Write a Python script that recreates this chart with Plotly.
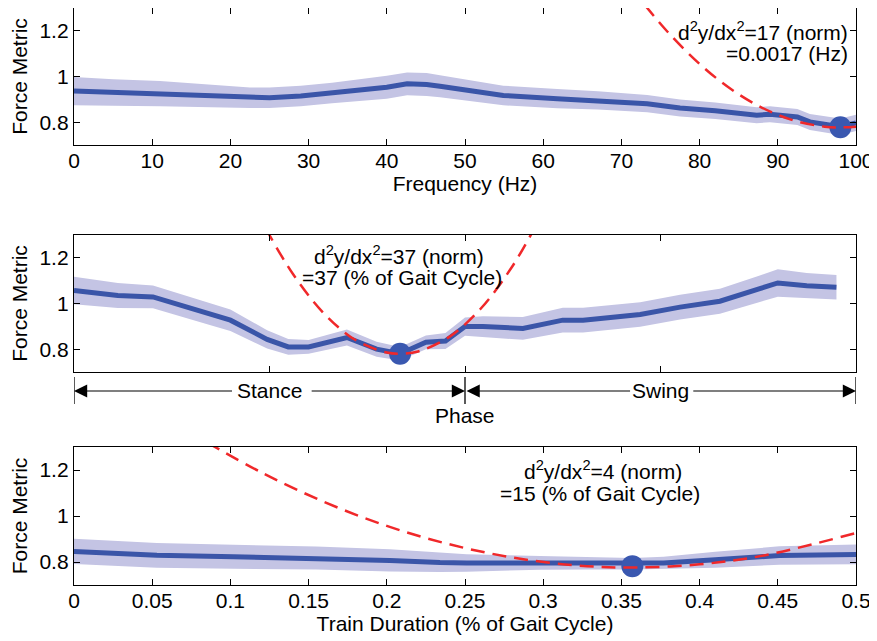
import plotly.graph_objects as go

# ---------------- data ----------------
# Panel 1: Frequency
freq_x = [0, 5, 11, 17, 22.5, 25, 29, 33, 37, 40, 42.6, 45.1, 46.8, 50, 54.9, 61.8, 67, 73.3, 77.5, 82, 87.3, 89, 92.5, 94.1, 98, 100]
freq_y = [0.936, 0.930, 0.925, 0.917, 0.907, 0.907, 0.915, 0.928, 0.942, 0.953, 0.968, 0.965, 0.957, 0.942, 0.917, 0.903, 0.895, 0.881, 0.862, 0.850, 0.830, 0.835, 0.823, 0.801, 0.780, 0.797]
freq_sd = [0.062, 0.058, 0.055, 0.05, 0.045, 0.045, 0.045, 0.045, 0.047, 0.05, 0.05, 0.05, 0.048, 0.045, 0.043, 0.042, 0.04, 0.038, 0.037, 0.036, 0.035, 0.035, 0.035, 0.035, 0.036, 0.036]
freq_fit_x = [73, 76, 80, 84, 88, 92, 96, 98, 100]
freq_fit_y = [1.313, 1.192, 1.055, 0.945, 0.863, 0.808, 0.780, 0.777, 0.780]
freq_min = (98, 0.778)

# Panel 2: Phase
phase_x = [0, 5.6, 10.1, 17.8, 20, 24.7, 27.4, 30, 34.9, 38.7, 41.7, 45, 47.5, 50, 52.3, 57.4, 62.5, 65.1, 72.4, 77.5, 82.6, 87.7, 90, 93.7, 97.5]
phase_y = [1.057, 1.035, 1.029, 0.948, 0.927, 0.843, 0.810, 0.810, 0.851, 0.800, 0.780, 0.830, 0.836, 0.899, 0.899, 0.891, 0.927, 0.927, 0.952, 0.984, 1.010, 1.065, 1.090, 1.078, 1.071]
phase_sd = [0.06, 0.055, 0.05, 0.047, 0.047, 0.04, 0.035, 0.03, 0.035, 0.033, 0.03, 0.03, 0.035, 0.04, 0.045, 0.05, 0.054, 0.054, 0.054, 0.054, 0.055, 0.058, 0.06, 0.056, 0.054]
phase_fit_x = [24.5, 28, 32, 36, 40, 41.7, 44, 48, 52, 56, 59]
phase_fit_y = [1.330, 1.129, 0.955, 0.840, 0.785, 0.780, 0.790, 0.854, 0.977, 1.160, 1.337]
phase_min = (41.7, 0.78)

# Panel 3: Train duration
td_x = [0, 0.053, 0.102, 0.155, 0.202, 0.234, 0.251, 0.298, 0.33, 0.357, 0.377, 0.41, 0.451, 0.5]
td_y = [0.846, 0.829, 0.823, 0.817, 0.807, 0.798, 0.796, 0.796, 0.794, 0.792, 0.796, 0.810, 0.828, 0.833]
td_sd = [0.055, 0.054, 0.052, 0.05, 0.048, 0.042, 0.038, 0.03, 0.027, 0.025, 0.027, 0.035, 0.04, 0.043]
td_fit_x = [0.085, 0.12, 0.16, 0.2, 0.24, 0.28, 0.32, 0.357, 0.4, 0.44, 0.5]
td_fit_y = [1.320, 1.189, 1.061, 0.957, 0.877, 0.820, 0.786, 0.776, 0.790, 0.827, 0.926]
td_min = (0.357, 0.782)

freq_ticks = [0, 10, 20, 30, 40, 50, 60, 70, 80, 90, 100]
td_ticks = [0, 0.05, 0.1, 0.15, 0.2, 0.25, 0.3, 0.35, 0.4, 0.45, 0.5]
td_ticktext = ["0", "0.05", "0.1", "0.15", "0.2", "0.25", "0.3", "0.35", "0.4", "0.45", "0.5"]
phase_ticks = [0, 25, 50, 75, 100]
y_ticks = [0.8, 1.0, 1.2]
y_ticktext = ["0.8", "1", "1.2"]

# ---------------- style ----------------
BLUE = "#3a55a8"
DOT = "#3a58b0"
BAND = "rgba(196,196,228,1)"
RED = "#f0282a"
FONT = "Liberation Sans, Arial, sans-serif"
FS = 21

fig = go.Figure()


def add_panel(x, y, sd, fx, fy, mn, xa, ya):
    up = [a + b for a, b in zip(y, sd)]
    lo = [a - b for a, b in zip(y, sd)]
    fig.add_trace(go.Scatter(x=list(x) + list(x)[::-1], y=up + lo[::-1], fill="toself",
                             fillcolor=BAND, line=dict(width=0), mode="lines",
                             xaxis=xa, yaxis=ya, hoverinfo="skip", showlegend=False))
    fig.add_trace(go.Scatter(x=x, y=y, mode="lines", line=dict(color=BLUE, width=5),
                             xaxis=xa, yaxis=ya, showlegend=False))
    fig.add_trace(go.Scatter(x=[mn[0]], y=[mn[1]], mode="markers",
                             marker=dict(color=DOT, size=22), cliponaxis=False,
                             xaxis=xa, yaxis=ya, showlegend=False))
    fig.add_trace(go.Scatter(x=fx, y=fy, mode="lines", line_shape="spline",
                             line=dict(color=RED, width=2.5, dash="14px,8px"),
                             xaxis=xa, yaxis=ya, showlegend=False))


add_panel(freq_x, freq_y, freq_sd, freq_fit_x, freq_fit_y, freq_min, "x", "y")
add_panel(phase_x, phase_y, phase_sd, phase_fit_x, phase_fit_y, phase_min, "x2", "y2")
add_panel(td_x, td_y, td_sd, td_fit_x, td_fit_y, td_min, "x3", "y3")

axis_common = dict(showline=True, linecolor="black", linewidth=1.3, mirror="ticks",
                   ticks="inside", ticklen=6, tickcolor="black", tickwidth=1.3, showgrid=False,
                   zeroline=False, automargin=False,
                   tickfont=dict(family=FONT, size=FS, color="black"))

# page body has an 8px margin: shift the figure so the plot lands where intended
OFF = 8
H = 641
T, B = 0, 641 - 585 + OFF
ph = H - T - B


def fy_(vp):
    """viewport pixel row -> paper fraction"""
    return (ph - (vp - OFF - T)) / ph


def dom(top_px, bot_px):
    return [max(0.0, fy_(bot_px)), min(1.0, fy_(top_px))]


fig.update_layout(
    width=877, height=641,
    margin=dict(l=74 - OFF, r=877 - 856 + OFF, t=T, b=B),
    paper_bgcolor="white", plot_bgcolor="white",
    font=dict(family=FONT, size=FS, color="black"),
    showlegend=False,
    xaxis=dict(axis_common, domain=[0, 1], range=[0, 100], tickvals=freq_ticks, anchor="y",
               ticklabelstandoff=-3,
               title=dict(text="Frequency (Hz)", standoff=1, font=dict(size=FS))),
    yaxis=dict(axis_common, domain=dom(7, 145), range=[0.7, 1.3], tickvals=y_ticks,
               ticktext=y_ticktext, anchor="x",
               title=dict(text="Force Metric", standoff=6, font=dict(size=FS))),
    xaxis2=dict(axis_common, domain=[0, 1], range=[0, 100], tickvals=phase_ticks,
                showticklabels=False, anchor="y2"),
    yaxis2=dict(axis_common, domain=dom(235, 372), range=[0.7, 1.3], tickvals=y_ticks,
                ticktext=y_ticktext, anchor="x2",
                title=dict(text="Force Metric", standoff=6, font=dict(size=FS))),
    xaxis3=dict(axis_common, domain=[0, 1], range=[0, 0.5], tickvals=td_ticks,
                ticktext=td_ticktext, anchor="y3", ticklabelstandoff=-3,
                title=dict(text="Train Duration (% of Gait Cycle)", standoff=1, font=dict(size=FS))),
    yaxis3=dict(axis_common, domain=dom(447, 585), range=[0.7, 1.3], tickvals=y_ticks,
                ticktext=y_ticktext, anchor="x3",
                title=dict(text="Force Metric", standoff=6, font=dict(size=FS))),
)

# curvature annotations
ann = []


def txt(text, x, y, xref, yref, xanchor="center"):
    ann.append(dict(text=text, x=x, y=y, xref=xref, yref=yref, showarrow=False,
                    xanchor=xanchor, yanchor="middle", font=dict(family=FONT, size=FS, color="black")))


txt("d<sup>2</sup>y/dx<sup>2</sup>=17 (norm)", 99.2, 1.2, "x", "y", "right")
txt("=0.0017 (Hz)", 99.2, 1.1, "x", "y", "right")
txt("d<sup>2</sup>y/dx<sup>2</sup>=37 (norm)", 41.5, 1.213, "x2", "y2")
txt("=37 (% of Gait Cycle)", 42.0, 1.113, "x2", "y2")
txt("d<sup>2</sup>y/dx<sup>2</sup>=4 (norm)", 0.338, 1.2, "x3", "y3")
txt("=15 (% of Gait Cycle)", 0.336, 1.1, "x3", "y3")

# phase bar below middle panel
ya = fy_(391)
txt("Stance", 25, ya, "x2", "paper")
txt("Swing", 75, ya, "x2", "paper")
txt("Phase", 50, fy_(415), "x2", "paper")

arrows = [(0, 20.4), (50, 30.2), (50.2, 71.3), (100, 79.0)]
for head, tail in arrows:
    ann.append(dict(x=head, y=ya, xref="x2", yref="paper", ax=tail, ay=0,
                    axref="x2", ayref="pixel", text="", showarrow=True,
                    arrowhead=2, arrowsize=2.4, arrowwidth=1.1, arrowcolor="black", standoff=0))
fig.update_layout(annotations=ann)

for xv in [0, 50, 100]:
    fig.add_shape(type="line", xref="x2", yref="paper", x0=xv, x1=xv,
                  y0=fy_(404), y1=fy_(377),
                  line=dict(color="black", width=1.3))

fig.write_html("out.html")
